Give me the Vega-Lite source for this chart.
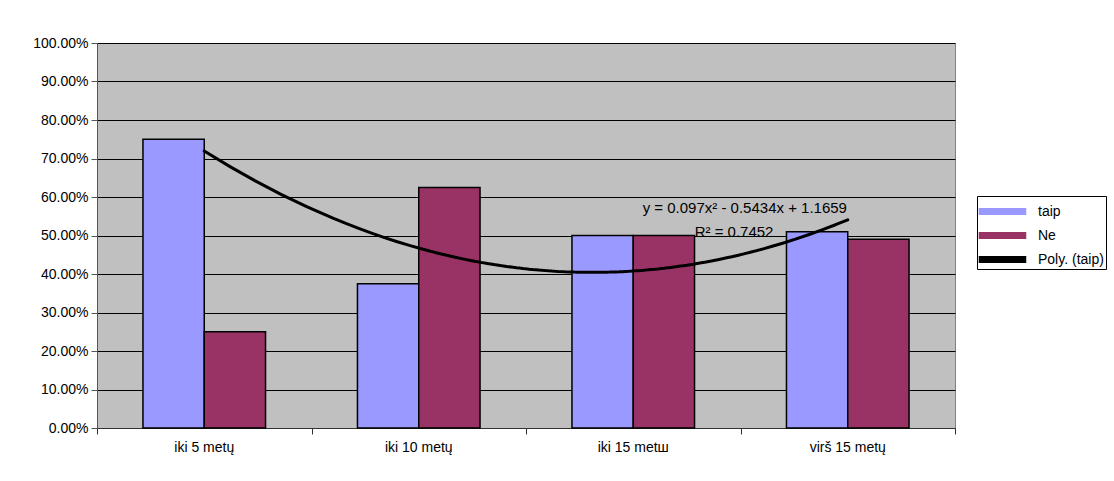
{
  "$schema": "https://vega.github.io/schema/vega-lite/v6.json",
  "width": 858,
  "height": 385,
  "autosize": {"type": "none"},
  "padding": {"left": 97, "top": 43, "right": 159, "bottom": 53},
  "background": "white",
  "config": {
    "view": {"fill": "#C0C0C0", "stroke": "#808080", "strokeWidth": 1},
    "font": "Liberation Sans",
    "axisY": {
      "title": null, "format": ".2%", "values": [0, 0.1, 0.2, 0.3, 0.4, 0.5, 0.6, 0.7, 0.8, 0.9, 1],
      "labelOverlap": false,
      "grid": true, "gridColor": "black", "gridOpacity": 1, "gridWidth": 1,
      "domainColor": "#555555", "tickColor": "#555555", "tickSize": 6,
      "labelFontSize": 14, "labelColor": "black", "labelPadding": 3
    }
  },
  "datasets": {
    "bars": [
      {"group": "iki 5 metų", "idx": 1, "series": "taip", "value": 0.75},
      {"group": "iki 5 metų", "idx": 1, "series": "Ne", "value": 0.25},
      {"group": "iki 10 metų", "idx": 2, "series": "taip", "value": 0.375},
      {"group": "iki 10 metų", "idx": 2, "series": "Ne", "value": 0.625},
      {"group": "iki 15 metш", "idx": 3, "series": "taip", "value": 0.5},
      {"group": "iki 15 metш", "idx": 3, "series": "Ne", "value": 0.5},
      {"group": "virš 15 metų", "idx": 4, "series": "taip", "value": 0.51},
      {"group": "virš 15 metų", "idx": 4, "series": "Ne", "value": 0.49}
    ],
    "labels": [
      {"x": 3.52, "y": 0.571, "text": "y = 0.097x² - 0.5434x + 1.1659"},
      {"x": 3.47, "y": 0.509, "text": "R² = 0.7452"}
    ]
  },
  "layer": [
    {
      "data": {"name": "bars"},
      "mark": {"type": "bar", "stroke": "black", "strokeWidth": 1.5},
      "encoding": {
        "x": {
          "field": "group", "type": "nominal",
          "sort": ["iki 5 metų", "iki 10 metų", "iki 15 metш", "virš 15 metų"],
          "scale": {"paddingInner": 0.4286, "paddingOuter": 0.2143},
          "axis": {"title": null, "labelAngle": 0, "ticks": false, "domain": false, "labelFontSize": 14, "labelColor": "black", "labelPadding": 12}
        },
        "xOffset": {"field": "series", "sort": ["taip", "Ne"], "scale": {"paddingInner": 0, "paddingOuter": 0}},
        "y": {
          "field": "value", "type": "quantitative",
          "scale": {"domain": [0, 1]},
          "axis": {"format": ".2%", "values": [0, 0.1, 0.2, 0.3, 0.4, 0.5, 0.6, 0.7, 0.8, 0.9, 1], "labelOverlap": false}
        },
        "color": {
          "field": "series", "type": "nominal",
          "scale": {"domain": ["taip", "Ne", "Poly. (taip)"], "range": ["#9999FF", "#993366", "#000000"]},
          "legend": {
            "title": null, "orient": "none", "legendX": 880, "legendY": 153,
            "strokeColor": "black", "fillColor": "white", "padding": 2,
            "symbolSize": 625, "symbolOffset": 10, "labelOffset": 22, "rowPadding": 3,
            "labelFontSize": 14, "labelColor": "black",
            "symbolType": "M-1.84,-0.22L1.84,-0.22L1.84,0.22L-1.84,0.22Z",
            "symbolStrokeColor": "black", "symbolStrokeWidth": 1.5, "symbolOpacity": 1
          }
        }
      }
    },
    {
      "data": {"name": "bars"},
      "transform": [
        {"filter": "datum.series === 'taip'"},
        {"regression": "value", "on": "idx", "method": "poly", "order": 2, "extent": [1, 4]}
      ],
      "mark": {"type": "trail", "size": 3},
      "encoding": {
        "x": {
          "field": "idx", "type": "quantitative",
          "scale": {"domain": [0.5, 4.5], "nice": false, "zero": false},
          "axis": {"title": null, "orient": "bottom", "values": [0.5, 1.5, 2.5, 3.5, 4.5], "labels": false, "grid": false, "ticks": true, "tickSize": 6, "tickColor": "#333333", "domainColor": "#333333"}
        },
        "y": {"field": "value", "type": "quantitative", "axis": {"format": ".2%", "values": [0, 0.1, 0.2, 0.3, 0.4, 0.5, 0.6, 0.7, 0.8, 0.9, 1], "labelOverlap": false}},
        "color": {"datum": "Poly. (taip)"}
      }
    },
    {
      "data": {"name": "labels"},
      "mark": {"type": "text", "fontSize": 15, "color": "black", "align": "center", "baseline": "middle"},
      "encoding": {
        "x": {"field": "x", "type": "quantitative", "scale": {"domain": [0.5, 4.5], "nice": false, "zero": false}, "axis": null},
        "y": {"field": "y", "type": "quantitative", "axis": {"format": ".2%", "values": [0, 0.1, 0.2, 0.3, 0.4, 0.5, 0.6, 0.7, 0.8, 0.9, 1], "labelOverlap": false}},
        "text": {"field": "text"}
      }
    }
  ],
  "resolve": {"scale": {"x": "independent"}}
}
